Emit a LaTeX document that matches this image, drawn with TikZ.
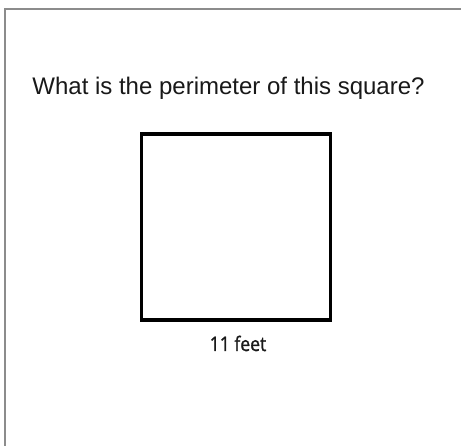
\documentclass[tikz,border=0pt]{standalone}
\usepackage{fontspec}
\usepackage{graphicx}
\setmainfont{Liberation Sans}
\newfontfamily\labfont[FakeBold=1.2]{Open Sans}
\begin{document}
\begin{tikzpicture}[x=1pt,y=-1pt,
  framestyle/.style={draw=black!45,line width=1.6pt},
  shapebox/.style={draw=black,line width=3.2pt,minimum width=189pt,minimum height=186pt,inner sep=0pt,anchor=center},
  qtext/.style={font=\fontsize{24}{28}\selectfont,text=black!90,anchor=base,inner sep=0pt},
  ltext/.style={font=\labfont\fontsize{20}{24}\selectfont,text=black!90,anchor=base,inner sep=0pt}]
\useasboundingbox (0,0) rectangle (461,446);
\fill[white] (0,0) rectangle (461,446);
\coordinate (tl) at (5,9);
\coordinate (tr) at (461,9);
\coordinate (bl) at (5,446);
\draw[framestyle] (tr) -- (tl) -- (bl);
\node[qtext] (q) at (228.5,95) {What is the perimeter of this square?};
\node[shapebox] (sq) at (235.6,227) {};
\node[ltext] (lab) at (238,351) {\scalebox{0.88}[1]{11 feet}};
\end{tikzpicture}
\end{document}
